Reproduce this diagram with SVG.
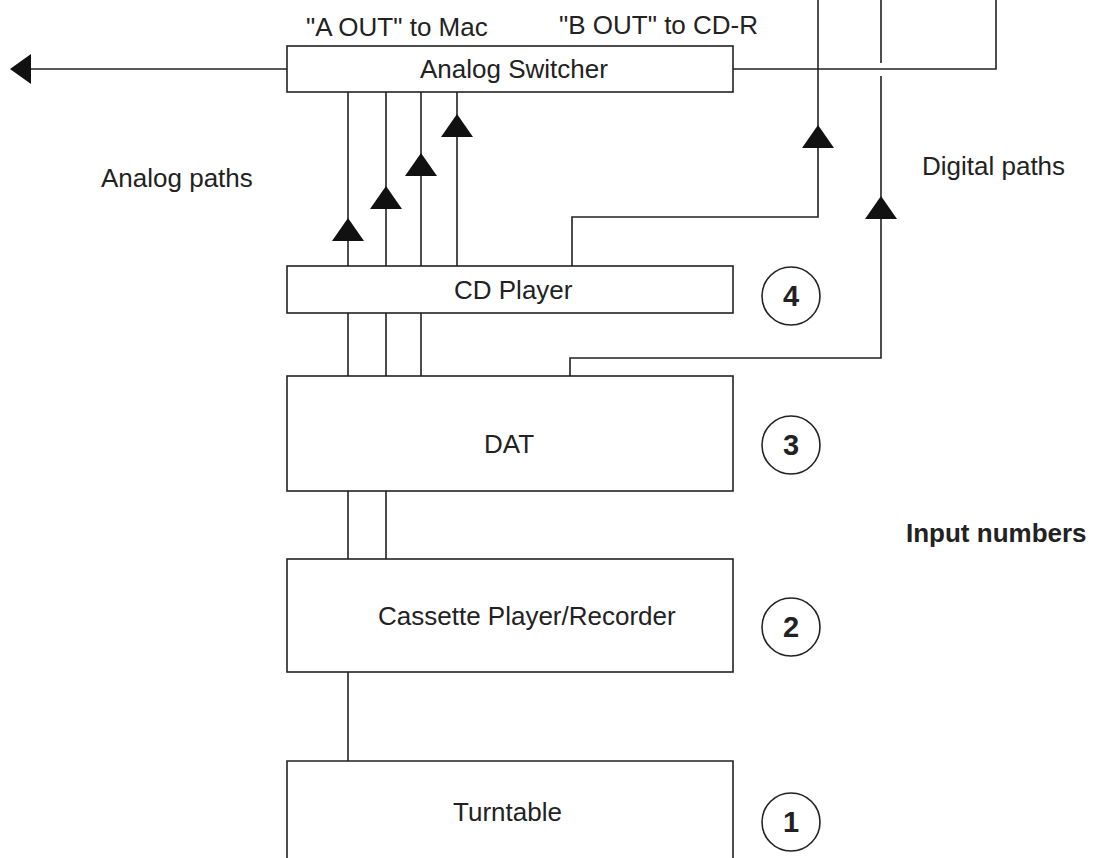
<svg xmlns="http://www.w3.org/2000/svg" width="1100" height="858" viewBox="0 0 1100 858">
<style>
.box{fill:#fff;stroke:#222;stroke-width:1.6}
.ln{fill:none;stroke:#222;stroke-width:1.6}
.ah{fill:#111;stroke:none}
.t{font-family:"Liberation Sans",Arial,sans-serif;font-size:26px;fill:#222}
.b{font-family:"Liberation Sans",Arial,sans-serif;font-size:26px;font-weight:bold;fill:#222}
.num{font-family:"Liberation Sans",Arial,sans-serif;font-size:29px;font-weight:bold;fill:#222;text-anchor:middle}
.circ{fill:#fff;stroke:#222;stroke-width:1.6}
</style>
<rect width="1100" height="858" fill="#fff"/>
<g id="connectors">
  <path class="ln" d="M287,69 H28"/>
  <polygon class="ah" points="10,69 31,54 31,84"/>
  <path class="ln" d="M733,69 H996 V0"/>
  <path class="ln" d="M818,0 V126"/>
  <path class="ln" d="M881,0 V63 M881,76 V197"/>
  <path class="ln" d="M348,92 V266 M386,92 V266 M421,92 V266 M457,92 V266"/>
  <polygon class="ah" points="348,218 332,241 364,241"/>
  <polygon class="ah" points="386,186 370,209 402,209"/>
  <polygon class="ah" points="421,153 405,176 437,176"/>
  <polygon class="ah" points="457,114 441,137 473,137"/>
  <path class="ln" d="M572,266 V217 H818 V148"/>
  <polygon class="ah" points="818,125 802,148 834,148"/>
  <path class="ln" d="M570,376 V358 H881 V218"/>
  <polygon class="ah" points="881,196 865,219 897,219"/>
  <path class="ln" d="M348,313 V376 M386,313 V376 M421,313 V376"/>
  <path class="ln" d="M348,491 V559 M386,491 V559"/>
  <path class="ln" d="M348,672 V761"/>
</g>
<g id="analog-switcher">
  <rect class="box" x="287" y="46" width="446" height="46"/>
  <text class="t" x="420" y="78">Analog Switcher</text>
</g>
<g id="cd-player">
  <rect class="box" x="287" y="266" width="446" height="47"/>
  <text class="t" x="454" y="299">CD Player</text>
</g>
<g id="dat">
  <rect class="box" x="287" y="376" width="446" height="115"/>
  <text class="t" x="509" y="453" text-anchor="middle">DAT</text>
</g>
<g id="cassette">
  <rect class="box" x="287" y="559" width="446" height="113"/>
  <text class="t" x="378" y="625">Cassette Player/Recorder</text>
</g>
<g id="turntable">
  <path class="box" d="M287,870 V761 H733 V870"/>
  <text class="t" x="453" y="821">Turntable</text>
</g>
<g id="input-4">
  <circle class="circ" cx="791" cy="296" r="29"/>
  <text class="num" x="791" y="306">4</text>
</g>
<g id="input-3">
  <circle class="circ" cx="791" cy="445" r="29"/>
  <text class="num" x="791" y="455">3</text>
</g>
<g id="input-2">
  <circle class="circ" cx="791" cy="627" r="29"/>
  <text class="num" x="791" y="637">2</text>
</g>
<g id="input-1">
  <circle class="circ" cx="791" cy="822" r="29"/>
  <text class="num" x="791" y="832">1</text>
</g>
<g id="labels">
  <text class="t" x="306" y="36">"A OUT" to Mac</text>
  <text class="t" x="559" y="34">"B OUT" to CD-R</text>
  <text class="t" x="101" y="187">Analog paths</text>
  <text class="t" x="922" y="175">Digital paths</text>
  <text class="b" x="906" y="542">Input numbers</text>
</g>
</svg>
